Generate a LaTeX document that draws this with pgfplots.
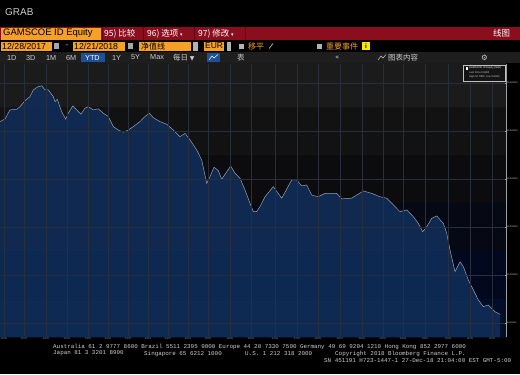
\documentclass[border=0pt]{standalone}
\usepackage{pgfplots}
\pgfplotsset{compat=1.18}
\usepackage{pgfplotstable}
\usepackage{fontspec}
\setmainfont{Liberation Sans}
\newfontfamily\cjk{Noto Sans CJK SC}
\newfontfamily\mono{Liberation Mono}
\newfontfamily\sym{DejaVu Sans}
\definecolor{bbred}{RGB}{138,14,30}
\definecolor{bbdiv}{RGB}{90,5,15}
\definecolor{bborange}{RGB}{247,160,40}
\definecolor{bbrow}{RGB}{30,30,30}
\definecolor{bbtext}{RGB}{205,205,205}
\definecolor{bbblue}{RGB}{30,80,150}
\definecolor{bandA}{RGB}{27,27,27}
\definecolor{bandB}{RGB}{18,18,18}
\definecolor{bandC}{RGB}{12,12,14}
\definecolor{bandD}{RGB}{6,8,20}
\definecolor{bandE}{RGB}{2,8,30}
\definecolor{bandF}{RGB}{0,14,40}
\definecolor{areafill}{RGB}{16,44,86}
\definecolor{arealine}{RGB}{150,160,178}
\definecolor{gridc}{RGB}{40,46,60}

\pgfplotstableread{
x y
0 10.639
5 10.650
10 10.688
16.7 10.690
20 10.701
25 10.726
30 10.743
33.3 10.771
38.3 10.785
41.7 10.788
45 10.771
48.3 10.771
53.3 10.743
55 10.722
57.3 10.732
61.7 10.680
65.7 10.649
68.3 10.674
72.7 10.704
76.7 10.688
81 10.670
85 10.695
88.3 10.701
93.3 10.688
98.3 10.692
103.3 10.674
108.3 10.660
113.3 10.618
118.3 10.604
123.3 10.595
128.3 10.604
133.3 10.618
140 10.639
145 10.660
149.3 10.674
153.3 10.655
160 10.639
166.7 10.628
173.3 10.604
180 10.576
185 10.590
190 10.563
196.7 10.521
201.7 10.479
206.7 10.382
210 10.410
214 10.449
218.3 10.435
221.7 10.399
226.7 10.430
230.7 10.454
235 10.424
240 10.403
245 10.354
250 10.299
253.3 10.264
256.7 10.264
260 10.285
265 10.326
273.3 10.368
281.7 10.320
291.7 10.396
296.7 10.396
301.7 10.371
306.7 10.375
311.7 10.333
318.3 10.326
325 10.340
336.7 10.340
341.7 10.317
351.7 10.320
356.7 10.333
363.3 10.350
371.7 10.340
380 10.326
386.7 10.320
393.3 10.292
400 10.264
406.7 10.271
413.3 10.243
418.3 10.215
422.7 10.180
426.7 10.201
431.7 10.236
436.7 10.246
443.3 10.215
446.7 10.174
450 10.104
455 10.014
460 10.055
463.3 10.035
468.3 9.979
473.3 9.938
478.3 9.896
483.3 9.868
488.3 9.875
495 9.847
500 9.836
}\navdata

\begin{document}
\begin{tikzpicture}[x=1bp,y=1bp]
\useasboundingbox (0,0) rectangle (520,374);
\fill[black] (0,0) rectangle (520,374);
\node[anchor=west, text=bbtext, font=\fontsize{10}{12}\selectfont, inner sep=0] at (5,362) {GRAB};
% row 1
\fill[bbred] (0,334) rectangle (520,347);
\fill[bborange] (1,334.5) rectangle (101,346.5);
\node[anchor=west, inner sep=0, font=\fontsize{9.5}{11}\selectfont] at (3,340.5) {GAMSCOE ID Equity};
\draw[bbdiv, line width=1bp] (102,334) -- (102,347) (143.5,334) -- (143.5,347) (194,334) -- (194,347) (245,334) -- (245,347);
\node[anchor=west, inner sep=0, text=white, font=\cjk\fontsize{8.5}{10}\selectfont] at (104,340.5) {95) 比较};
\node[anchor=west, inner sep=0, text=white, font=\cjk\fontsize{8.5}{10}\selectfont] at (147,340.5) {96) 选项 {\sym\fontsize{5}{6}\selectfont ▾}};
\node[anchor=west, inner sep=0, text=white, font=\cjk\fontsize{8.5}{10}\selectfont] at (198,340.5) {97) 修改 {\sym\fontsize{5}{6}\selectfont ▾}};
\node[anchor=west, inner sep=0, text=white, font=\cjk\fontsize{8.5}{10}\selectfont] at (493,340.5) {线图};
% row 2
\fill[bborange] (1,323.5) rectangle (52,332.5);
\node[anchor=west, inner sep=0, font=\fontsize{8.8}{10}\selectfont] at (2,328) {12/28/2017};
\fill[gray!70] (54,325) rectangle (58.5,331);
\node[text=bbtext, inner sep=0, font=\fontsize{8}{9}\selectfont] at (67,328) {-};
\fill[bborange] (73,323.5) rectangle (125,332.5);
\node[anchor=west, inner sep=0, font=\fontsize{8.8}{10}\selectfont] at (74,328) {12/21/2018};
\fill[gray!70] (128,325) rectangle (132.5,331);
\fill[bborange] (139,323.5) rectangle (191,332.5);
\node[anchor=west, inner sep=0, font=\cjk\fontsize{8}{9}\selectfont] at (141,328) {净值线};
\fill[gray!60] (193,323.5) rectangle (198,332.5);
\fill[bborange] (204,323.5) rectangle (224,332.5);
\node[anchor=west, inner sep=0, font=\fontsize{8.5}{10}\selectfont] at (205,328) {EUR};
\fill[gray!60] (227,323.5) rectangle (231,332.5);
\fill[gray!60] (239,325.5) rectangle (243.5,330.5);
\node[anchor=west, inner sep=0, text=bborange, font=\cjk\fontsize{8}{9}\selectfont] at (248,328) {移平};
\draw[gray!70, line width=0.8bp] (269,325.5) -- (273,330.5);
\fill[gray!60] (317,325.5) rectangle (321.5,330.5);
\node[anchor=west, inner sep=0, text=bborange, font=\cjk\fontsize{8}{9}\selectfont] at (326,328) {重要事件};
\fill[yellow!90!orange] (362,324) rectangle (370,332);
\node[inner sep=0, font=\bfseries\fontsize{6.5}{7}\selectfont] at (366,328) {i};
% row 3
\fill[bbrow] (0,311) rectangle (520,322);
\fill[bbblue] (81,312) rectangle (105,321.5);
\begin{scope}[every node/.style={anchor=west, inner sep=0, text=bbtext, font=\fontsize{7.3}{8}\selectfont}]
\node at (7,316.5) {1D};
\node at (26,316.5) {3D};
\node at (46,316.5) {1M};
\node at (66,316.5) {6M};
\node[text=white] at (85,316.5) {YTD};
\node at (112,316.5) {1Y};
\node at (131,316.5) {5Y};
\node at (150,316.5) {Max};
\node[font=\cjk\fontsize{7.5}{8}\selectfont] at (173,316.5) {每日 {\sym\fontsize{6}{7}\selectfont ▼}};
\node[font=\cjk\fontsize{7.5}{8}\selectfont] at (237,316.5) {表};
\node[font=\sym\fontsize{7}{8}\selectfont] at (335,316.5) {«};
\node[font=\cjk\fontsize{7.5}{8}\selectfont] at (388,316.5) {图表内容};
\node[font=\sym\fontsize{7.5}{8}\selectfont] at (481,316.5) {⚙};
\end{scope}
\fill[bbblue] (207,312.5) rectangle (220,321);
\draw[white, line width=0.5bp] (209,314) -- (212,318) -- (214,316) -- (218,319.5);
\draw[bbtext, line width=0.5bp] (378,314) -- (381,318) -- (383,316) -- (386,319.5);
% chart
\begin{axis}[
  at={(0bp,37bp)}, anchor=south west,
  scale only axis, width=506bp, height=273bp,
  xmin=0, xmax=506, ymin=9.7417, ymax=10.879,
  axis on top,
  axis x line*=bottom, axis y line*=right,
  x axis line style={draw=none},
  y axis line style={draw=gray!75, line width=0.6bp},
  xtick={4,24,46,67,88,108,128,148,168,188,208,230,251,275,297,318,340,362,383,403,425,448,470,492},
  xticklabels={01/05,01/19,02/02,02/16,03/02,03/16,03/30,04/13,04/27,05/11,05/25,06/08,06/22,07/06,07/20,08/03,08/17,08/31,09/14,09/28,10/12,10/26,11/09,11/23},
  ytick={9.8,10,10.2,10.4,10.6,10.8},
  yticklabel style={/pgf/number format/.cd, fixed, fixed zerofill, precision=6, /tikz/.cd, font=\fontsize{2.3}{3}\selectfont, text=bbtext, inner sep=0.6bp},
  xticklabel style={font=\fontsize{2.5}{3}\selectfont, text=gray!80, inner sep=0.6bp},
  /pgf/number format/assume math mode=true,
  major tick length=1.5bp,
  tick style={draw=gray!70, line width=0.4bp},
  xtick style={draw=none},
  grid=major,
  major grid style={draw=gridc, line width=0.3bp},
  clip=true,
]
\fill[bandA] (axis cs:0,10.7) rectangle (axis cs:506,10.9);
\fill[bandB] (axis cs:0,10.5) rectangle (axis cs:506,10.7);
\fill[bandC] (axis cs:0,10.3) rectangle (axis cs:506,10.5);
\fill[bandD] (axis cs:0,10.1) rectangle (axis cs:506,10.3);
\fill[bandE] (axis cs:0,9.9) rectangle (axis cs:506,10.1);
\fill[bandF] (axis cs:0,9.7) rectangle (axis cs:506,9.9);
\addplot[draw=none, fill=areafill, fill opacity=0.92] table[x=x,y=y] {\navdata} \closedcycle;
\addplot[arealine, line width=0.5bp] table[x=x,y=y] {\navdata};
\node[anchor=west, fill=gray!15, text=black, inner sep=0.6bp, font=\fontsize{2.3}{3}\selectfont] at (axis cs:506,9.836) {9.836000};
\end{axis}
% legend box
\fill[black!92] (463,293) rectangle (505,309);
\draw[gray!50, line width=0.3bp] (463,293) rectangle (505,309);
\fill[white] (465.5,304.5) rectangle (468,307);
\node[anchor=west, inner sep=0, text=white, font=\fontsize{2.6}{3}\selectfont] at (469,305.8) {GAMSCOE ID Equity (NAV)};
\node[anchor=west, inner sep=0, text=bbtext, font=\fontsize{2.6}{3}\selectfont] at (469,301.3) {Last Price 9.8360};
\node[anchor=west, inner sep=0, text=bbtext, font=\fontsize{2.6}{3}\selectfont] at (469,297) {High 10.7880 \ Low 9.8360};
% footer
\begin{scope}[every node/.style={anchor=west, inner sep=0, text=bbtext, font=\mono\fontsize{5.9}{7}\selectfont}]
\node at (53,27) {Australia 61 2 9777 8600 Brazil 5511 2395 9000 Europe 44 20 7330 7500 Germany 49 69 9204 1210 Hong Kong 852 2977 6000};
\node at (53,20.5) {Japan 81 3 3201 8900};
\node at (144,20.5) {Singapore 65 6212 1000};
\node at (245,20.5) {U.S. 1 212 318 2000};
\node at (335,20.5) {Copyright 2018 Bloomberg Finance L.P.};
\node at (324,13) {SN 451191 H723-1447-1 27-Dec-18 21:04:00 EST  GMT-5:00};
\end{scope}
\end{tikzpicture}
\end{document}
